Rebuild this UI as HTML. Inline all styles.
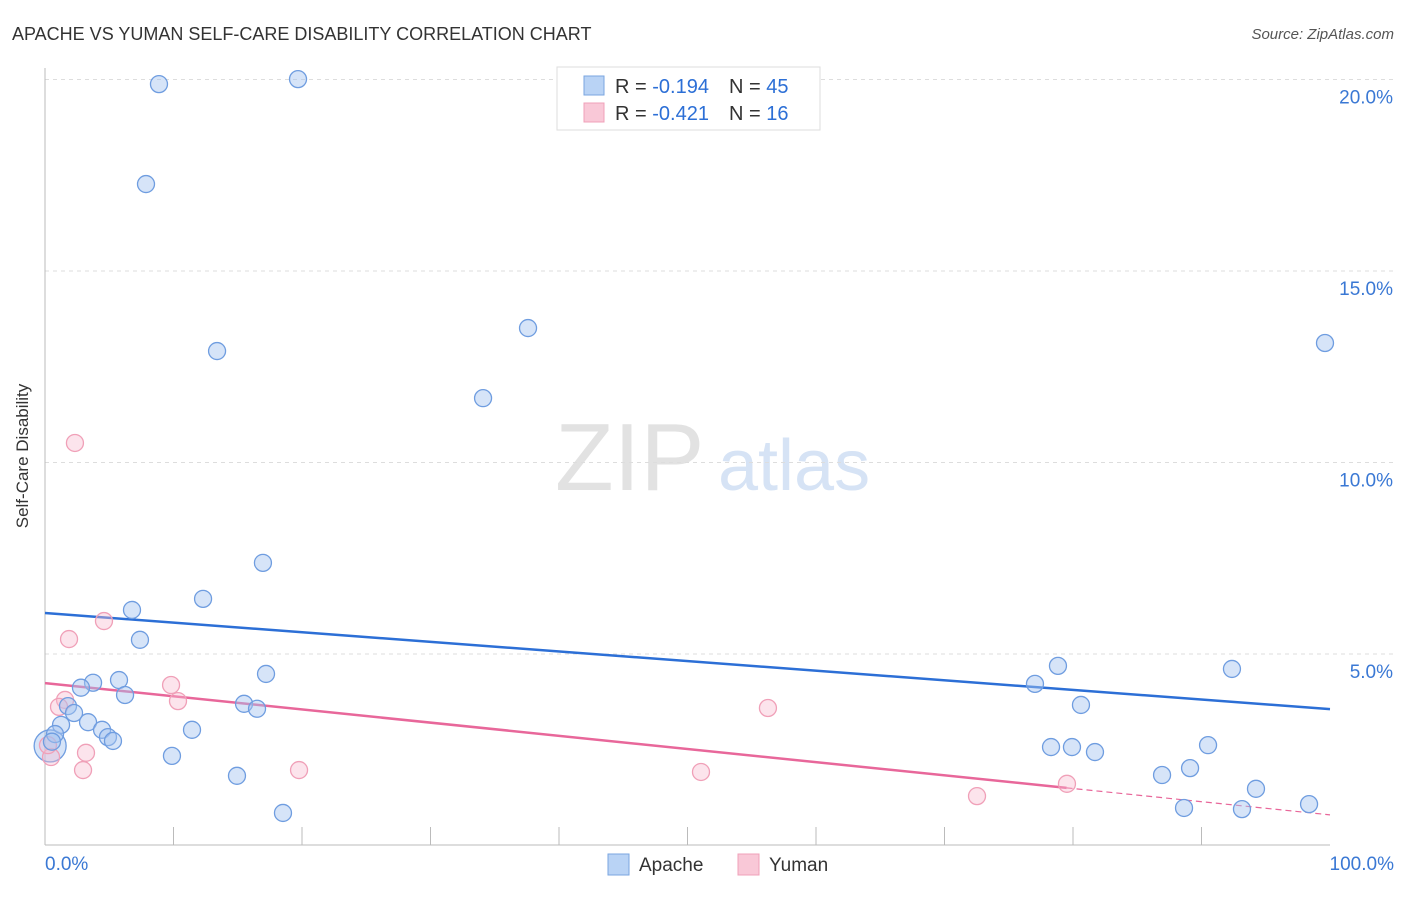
<!DOCTYPE html>
<html><head><meta charset="utf-8"><style>
body{margin:0;background:#fff;font-family:"Liberation Sans",sans-serif;}
svg text{font-family:"Liberation Sans",sans-serif;}
</style></head><body>
<svg id="chart" width="1406" height="892" xmlns="http://www.w3.org/2000/svg">
<text x="12" y="40" font-size="18" fill="#333">APACHE VS YUMAN SELF-CARE DISABILITY CORRELATION CHART</text>
<text x="1394" y="39" font-size="15" fill="#555" font-style="italic" text-anchor="end">Source: ZipAtlas.com</text>
<text x="28" y="456" font-size="17" fill="#333" text-anchor="middle" transform="rotate(-90 28 456)">Self-Care Disability</text>
<g><text x="555" y="490" font-size="96" fill="#e2e2e2" font-family="Liberation Serif" >ZIP</text><text x="718" y="490" font-size="72" fill="#d6e3f5">atlas</text></g>
<g id="grid"></g><g id="axes"></g><g id="trend"></g><g id="points"></g>
<g>
<rect x="557" y="67" width="263" height="63" fill="#fff" stroke="#ddd"/>
<rect x="584" y="76" width="20" height="19" fill="#b9d3f5" stroke="#7aa6e0"/>
<rect x="584" y="103" width="20" height="19" fill="#f9c8d7" stroke="#f0a0b8"/>
<text x="615" y="93" font-size="20" fill="#333">R = <tspan fill="#2c6fd6">-0.194</tspan><tspan dx="20">N = </tspan><tspan fill="#2c6fd6">45</tspan></text>
<text x="615" y="120" font-size="20" fill="#333">R = <tspan fill="#2c6fd6">-0.421</tspan><tspan dx="20">N = </tspan><tspan fill="#2c6fd6"> 16</tspan></text>
</g>
<g>
<rect x="608" y="854" width="21" height="21" fill="#b9d3f5" stroke="#7aa6e0"/>
<text x="639" y="871" font-size="19" fill="#333">Apache</text>
<rect x="738" y="854" width="21" height="21" fill="#f9c8d7" stroke="#f0a0b8"/>
<text x="769" y="871" font-size="19" fill="#333">Yuman</text>
</g>
</svg>
<script>
const yTicks=[5,10,15,20];
const yTickLabels=["5.0%","10.0%","15.0%","20.0%"];
const xTickVals=[10,20,30,40,50,60,70,80,90];
const xAxisLabels=["0.0%","100.0%"];
const apacheX=[8.87,19.69,7.86,13.39,37.59,34.09,99.61,16.96,12.30,6.77,7.39,17.20,3.74,5.76,2.80,6.23,15.49,16.50,1.79,2.26,3.35,1.25,4.44,11.44,0.78,4.90,5.29,0.54,9.88,14.94,18.52,78.83,77.04,92.37,80.62,78.29,79.92,81.71,90.51,86.93,89.11,94.24,88.64,93.15,98.37];
const apacheY=[19.88,20.01,17.27,12.91,13.51,11.68,13.12,7.38,6.44,6.15,5.37,4.48,4.25,4.32,4.12,3.93,3.70,3.57,3.64,3.46,3.22,3.15,3.02,3.02,2.91,2.83,2.73,2.71,2.34,1.82,0.85,4.69,4.22,4.61,3.67,2.57,2.57,2.44,2.62,1.84,2.02,1.48,0.98,0.95,1.08];
const yumanX=[2.33,1.87,4.59,9.81,10.35,1.56,1.09,3.19,2.96,0.47,0.23,19.77,56.26,51.05,72.53,79.53];
const yumanY=[10.51,5.39,5.86,4.19,3.77,3.80,3.62,2.42,1.97,2.31,2.62,1.97,3.59,1.92,1.29,1.61];
const bigX=[0.4],bigY=[2.6];
const apacheTrend=[6.07,3.56];
const yumanTrend=[4.24,0.80];
const yumanSolidEnd=79.5;
const X0=45,X1=1330,Y0=845.5,PX=38.3;
const sx=v=>X0+(X1-X0)*v/100, sy=v=>Y0-v*PX;
const NS="http://www.w3.org/2000/svg";
function mk(p,tag,a){const e=document.createElementNS(NS,tag);for(const k in a)e.setAttribute(k,a[k]);p.appendChild(e);return e;}
const grid=document.getElementById('grid'),axes=document.getElementById('axes'),trend=document.getElementById('trend'),pts=document.getElementById('points');
yTicks.forEach((t,i)=>{
 const l=mk(grid,'line',{x1:45,x2:1394,y1:sy(t),y2:sy(t),stroke:'#ddd','stroke-dasharray':'4,4'});
 
 
 const tx=mk(grid,'text',{x:1393,y:sy(t)+24,'font-size':19,fill:'#3a78d4','text-anchor':'end'});
 tx.textContent=yTickLabels[i];
 
 
});
const ya=mk(axes,'line',{x1:45,x2:45,y1:68,y2:845,stroke:'#bbb'});


const xa=mk(axes,'line',{x1:45,x2:1330,y1:845,y2:845,stroke:'#bbb'});


xTickVals.forEach(v=>{const t=mk(axes,'line',{x1:sx(v),x2:sx(v),y1:827,y2:845,stroke:'#bbb'});
 
 });
[[0,'start',45],[100,'end',1394]].forEach((d,i)=>{const t=mk(axes,'text',{x:d[2],y:870,'font-size':19,fill:'#3a78d4','text-anchor':d[1]});t.textContent=xAxisLabels[i];
 
 });
const bl=mk(trend,'line',{x1:sx(0),y1:sy(apacheTrend[0]),x2:sx(100),y2:sy(apacheTrend[1]),stroke:'#2c6fd6','stroke-width':2.5});


const yAt=x=>yumanTrend[0]+(yumanTrend[1]-yumanTrend[0])*x/100;
const pl=mk(trend,'line',{x1:sx(0),y1:sy(yumanTrend[0]),x2:sx(yumanSolidEnd),y2:sy(yAt(yumanSolidEnd)),stroke:'#e8679a','stroke-width':2.5});


const pd=mk(trend,'line',{x1:sx(yumanSolidEnd),y1:sy(yAt(yumanSolidEnd)),x2:sx(100),y2:sy(yumanTrend[1]),stroke:'#e8679a','stroke-width':1.2,'stroke-dasharray':'6,4'});


bigX.forEach((x,i)=>{const c=mk(pts,'circle',{cx:sx(x),cy:sy(bigY[i]),r:16,fill:'rgba(164,196,240,0.45)',stroke:'#6f9de0','stroke-width':1.3});
 
 });
yumanX.forEach((x,i)=>{const c=mk(pts,'circle',{cx:sx(x),cy:sy(yumanY[i]),r:8.5,fill:'rgba(248,187,208,0.4)',stroke:'#f0a0b8','stroke-width':1.3});
 
 });
apacheX.forEach((x,i)=>{const c=mk(pts,'circle',{cx:sx(x),cy:sy(apacheY[i]),r:8.5,fill:'rgba(164,196,240,0.45)',stroke:'#6f9de0','stroke-width':1.3});
 
 });
</script>
</body></html>
